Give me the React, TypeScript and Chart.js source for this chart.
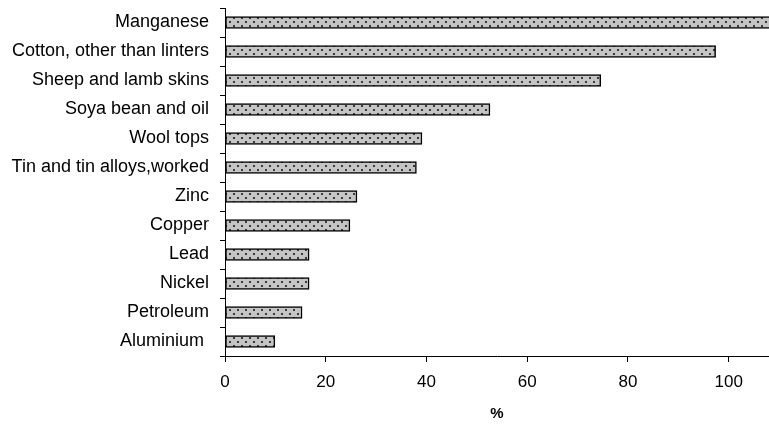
import React, { useEffect, useRef } from "react";
import { Chart, registerables } from "chart.js";

Chart.register(...registerables);

const categories = [
  "Manganese",
  "Cotton, other than linters",
  "Sheep and lamb skins",
  "Soya bean and oil",
  "Wool tops",
  "Tin and tin alloys,worked",
  "Zinc",
  "Copper",
  "Lead",
  "Nickel",
  "Petroleum",
  "Aluminium ",
];
const values = [115, 97.4, 74.6, 52.6, 39.1, 38.0, 26.2, 24.8, 16.7, 16.7, 15.3, 9.9];
const xTicks = [0, 20, 40, 60, 80, 100];
const xMin = 0;
const xMax = 108;
const axisTitle = "%";

const FONT = "'Liberation Sans', Arial, Helvetica, sans-serif";

function makePattern(): CanvasPattern | string {
  const c = document.createElement("canvas");
  c.width = 8;
  c.height = 8;
  const g = c.getContext("2d");
  if (!g) return "#c0c0c0";
  g.fillStyle = "#c4c4c4";
  g.fillRect(0, 0, 8, 8);
  g.fillStyle = "#3a3a3a";
  g.fillRect(1, 1, 2, 2);
  g.fillRect(5, 5, 2, 2);
  const p = g.createPattern(c, "repeat");
  return p || "#c0c0c0";
}

export default function App() {
  const ref = useRef<HTMLCanvasElement | null>(null);

  useEffect(() => {
    const canvas = ref.current;
    if (!canvas) return;
    const pattern = makePattern();
    const chart = new Chart(canvas, {
      type: "bar",
      data: {
        labels: categories,
        datasets: [
          {
            data: values,
            backgroundColor: pattern as any,
            borderColor: "#000",
            borderWidth: 1.5,
            borderSkipped: false,
            barThickness: 12,
          },
        ],
      },
      options: {
        indexAxis: "y",
        responsive: false,
        animation: false,
        devicePixelRatio: 1,
        layout: { padding: { top: 8, right: 0, bottom: 0, left: 0 } },
        plugins: {
          legend: { display: false },
          tooltip: { enabled: false },
        },
        scales: {
          x: {
            type: "linear",
            position: "bottom",
            min: xMin,
            max: xMax,
            afterBuildTicks: (s: any) => {
              s.ticks = xTicks.map((v) => ({ value: v }));
            },
            afterFit: (s: any) => {
              s.height = 68;
              s.paddingLeft = 0;
              s.paddingRight = 0;
            },
            ticks: {
              color: "#000",
              font: { family: FONT, size: 17 },
              padding: 10,
              maxRotation: 0,
            },
            grid: {
              drawOnChartArea: false,
              drawTicks: true,
              tickLength: 6,
              color: "#000",
            },
            border: { color: "#000", width: 1 },
            title: {
              display: true,
              text: axisTitle,
              color: "#000",
              font: { family: FONT, size: 15, weight: "bold" },
              padding: { top: 0, bottom: 1 },
            },
          },
          y: {
            type: "category",
            afterFit: (s: any) => {
              s.width = 225;
              s.paddingTop = 0;
              s.paddingBottom = 0;
            },
            ticks: {
              color: "#000",
              font: { family: FONT, size: 18 },
              padding: 11,
              autoSkip: false,
            },
            grid: {
              offset: true,
              drawOnChartArea: false,
              drawTicks: true,
              tickLength: 5,
              color: "#000",
            },
            border: { color: "#000", width: 1 },
          },
        },
      },
    });
    return () => chart.destroy();
  }, []);

  return (
    <div style={{ position: "fixed", left: 0, top: 0, width: 769, height: 424, background: "#fff" }}>
      <canvas ref={ref} width={769} height={424} style={{ width: 769, height: 424, display: "block" }} />
    </div>
  );
}
